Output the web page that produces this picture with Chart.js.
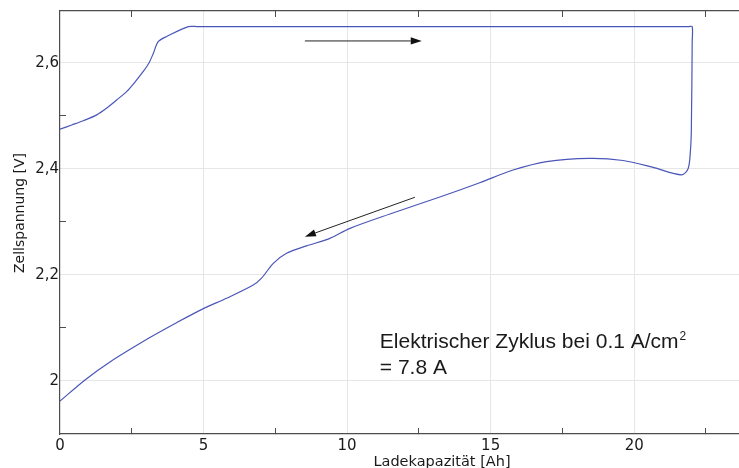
<!DOCTYPE html>
<html><head><meta charset="utf-8">
<script src="https://cdn.jsdelivr.net/npm/chart.js@4.4.1/dist/chart.umd.min.js"></script>
<style>html,body{margin:0;padding:0;background:#fff;}#wrap{width:739px;height:468px;position:relative;}</style>
</head><body><div id="wrap"><canvas id="c"></canvas></div>
<script>
// Charge branch (capacity in Ah, voltage in V)
const chargeCapacity = [0, 0.41, 0.81, 1.28, 1.63, 1.97, 2.32, 2.61, 2.90, 3.10, 3.25, 3.42, 3.72, 4.47, 4.80, 21.90, 22.02];
const chargeVoltage  = [2.475, 2.483, 2.491, 2.502, 2.515, 2.530, 2.546, 2.564, 2.584, 2.600, 2.618, 2.640, 2.650, 2.6685, 2.6685, 2.6685, 2.6685];
// Discharge branch (from end of charge back to zero)
const dischargeCapacity = [22.02, 22.02, 21.99, 21.96, 21.88, 21.65, 20.66, 19.61, 18.45, 16.95, 15.78, 14.62, 13.23, 11.49, 10.10, 9.40, 8.59, 7.89, 7.43, 7.02, 6.73, 5.80, 5.01, 4.06, 3.13, 1.74, 0.87, 0];
const dischargeVoltage  = [2.6685, 2.640, 2.474, 2.436, 2.401, 2.389, 2.403, 2.416, 2.420, 2.414, 2.398, 2.374, 2.347, 2.315, 2.288, 2.269, 2.255, 2.241, 2.222, 2.194, 2.181, 2.156, 2.137, 2.110, 2.082, 2.036, 2.002, 1.962];

const xMajorTicks = [0, 5, 10, 15, 20];
const xTickLabels = ['0', '5', '10', '15', '20'];
const xMinorTicks = [2.5, 7.5, 12.5, 17.5, 22.5];
const yMajorTicks = [2, 2.2, 2.4, 2.6];
const yTickLabels = ['2', '2,2', '2,4', '2,6'];
const yMinorTicks = [2.1, 2.3, 2.5];

const xAxisTitle = 'Ladekapazität [Ah]';
const yAxisTitle = 'Zellspannung [V]';
const noteLine1 = 'Elektrischer Zyklus bei 0.1 A/cm';
const noteSup = '2';
const noteLine2 = '= 7.8 A';
// annotation anchors in data coordinates [Ah, V]
const noteAnchor = [11.14, 2.0623];
const arrowFrom = [[8.53, 2.6415], [12.36, 2.3466]];
const arrowTo   = [[12.6, 2.6415], [8.53, 2.2723]];

const X_MIN = 0, X_MAX = 23.65, Y_MIN = 1.9, Y_MAX = 2.698;

const points = [];
chargeCapacity.forEach((x, i) => points.push({x: x, y: chargeVoltage[i]}));
dischargeCapacity.forEach((x, i) => { if (i > 0) points.push({x: x, y: dischargeVoltage[i]}); });

const near = (a, b) => Math.abs(a - b) < 1e-6;
const isMajor = (arr, v) => arr.some(t => near(t, v));
const GRID = '#e6e6e6';
const AXIS = '#4d4d4d';

function setTicks(major, minor) {
  return function (scale) {
    scale.ticks = major.concat(minor).sort((a, b) => a - b).map(v => ({value: v}));
  };
}
function fitBox(w, h) {
  return function (s) {
    if (w !== null) s.width = w;
    if (h !== null) s.height = h;
    s.paddingTop = 0; s.paddingBottom = 0; s.paddingLeft = 0; s.paddingRight = 0;
  };
}

const overlay = {
  id: 'overlay',
  afterDraw(chart) {
    const ctx = chart.ctx;
    const xs = chart.scales.x, ys = chart.scales.y;
    ctx.save();
    ctx.fillStyle = '#1a1a1a';
    // axis titles
    ctx.font = '14.5px "DejaVu Sans"';
    ctx.textAlign = 'center';
    ctx.textBaseline = 'alphabetic';
    ctx.fillText(xAxisTitle, 442, 466);
    ctx.save();
    ctx.translate(24, 213);
    ctx.rotate(-Math.PI / 2);
    ctx.font = '14px "DejaVu Sans"';
    ctx.fillText(yAxisTitle, 0, 0);
    ctx.restore();
    // note
    const nx = xs.getPixelForValue(noteAnchor[0]);
    const ny = ys.getPixelForValue(noteAnchor[1]);
    ctx.textAlign = 'left';
    ctx.font = '21px "Liberation Sans"';
    ctx.fillText(noteLine1, nx, ny);
    const w = ctx.measureText(noteLine1).width;
    ctx.fillText(noteLine2, nx, ny + 26);
    ctx.font = '12px "Liberation Sans"';
    ctx.fillText(noteSup, nx + w + 1, ny - 8);
    // arrows
    ctx.strokeStyle = '#222';
    ctx.fillStyle = '#111';
    ctx.lineWidth = 1;
    for (let i = 0; i < arrowFrom.length; i++) {
      const x1 = xs.getPixelForValue(arrowFrom[i][0]), y1 = ys.getPixelForValue(arrowFrom[i][1]);
      const x2 = xs.getPixelForValue(arrowTo[i][0]), y2 = ys.getPixelForValue(arrowTo[i][1]);
      const a = Math.atan2(y2 - y1, x2 - x1);
      const L = 11, H = 3.6;
      const bx = x2 - L * Math.cos(a), by = y2 - L * Math.sin(a);
      ctx.beginPath(); ctx.moveTo(x1, y1); ctx.lineTo(bx, by); ctx.stroke();
      ctx.beginPath();
      ctx.moveTo(x2, y2);
      ctx.lineTo(bx + H * Math.sin(a), by - H * Math.cos(a));
      ctx.lineTo(bx - H * Math.sin(a), by + H * Math.cos(a));
      ctx.closePath(); ctx.fill();
    }
    ctx.restore();
  }
};

new Chart(document.getElementById('c'), {
  type: 'scatter',
  data: {
    datasets: [{
      label: 'Zellspannung',
      data: points,
      showLine: true,
      borderColor: '#4a56b8',
      borderWidth: 1.2,
      pointRadius: 0,
      tension: 0.3,
      fill: false
    }]
  },
  options: {
    responsive: true,
    maintainAspectRatio: false,
    animation: false,
    layout: {padding: 0},
    plugins: {legend: {display: false}, tooltip: {enabled: false}},
    scales: {
      x: {
        type: 'linear', position: 'bottom', min: X_MIN, max: X_MAX,
        afterBuildTicks: setTicks(xMajorTicks, xMinorTicks),
        afterFit: fitBox(null, 34),
        border: {display: true, color: AXIS, width: 1.2},
        grid: {
          color: c => (c.tick && isMajor(xMajorTicks, c.tick.value) && c.tick.value > 0) ? GRID : 'rgba(0,0,0,0)',
          tickColor: c => (c.tick && isMajor(xMajorTicks, c.tick.value)) ? 'rgba(0,0,0,0)' : AXIS,
          tickLength: -6, lineWidth: 1, tickWidth: 1
        },
        ticks: {
          autoSkip: false, maxRotation: 0, padding: 9, color: '#1a1a1a',
          font: {family: 'DejaVu Sans', size: 15},
          callback: v => { const i = xMajorTicks.findIndex(t => near(t, v)); return i >= 0 ? xTickLabels[i] : ''; }
        }
      },
      x2: {
        type: 'linear', position: 'top', min: X_MIN, max: X_MAX,
        afterBuildTicks: setTicks([], xMinorTicks),
        afterFit: fitBox(null, 11),
        border: {display: true, color: AXIS, width: 1.2},
        grid: {drawOnChartArea: false, tickColor: AXIS, tickLength: -6, tickWidth: 1},
        ticks: {display: false}
      },
      y: {
        type: 'linear', position: 'left', min: Y_MIN, max: Y_MAX,
        afterBuildTicks: setTicks(yMajorTicks, yMinorTicks),
        afterFit: fitBox(60, null),
        border: {display: true, color: AXIS, width: 1.2},
        grid: {
          color: c => (c.tick && isMajor(yMajorTicks, c.tick.value)) ? GRID : 'rgba(0,0,0,0)',
          tickColor: c => (c.tick && isMajor(yMajorTicks, c.tick.value)) ? 'rgba(0,0,0,0)' : AXIS,
          tickLength: -6, lineWidth: 1, tickWidth: 1
        },
        ticks: {
          autoSkip: false, padding: 7, color: '#1a1a1a',
          font: {family: 'DejaVu Sans', size: 15},
          callback: v => { const i = yMajorTicks.findIndex(t => near(t, v)); return i >= 0 ? yTickLabels[i] : ''; }
        }
      }
    }
  },
  plugins: [overlay]
});
</script>
</body></html>
